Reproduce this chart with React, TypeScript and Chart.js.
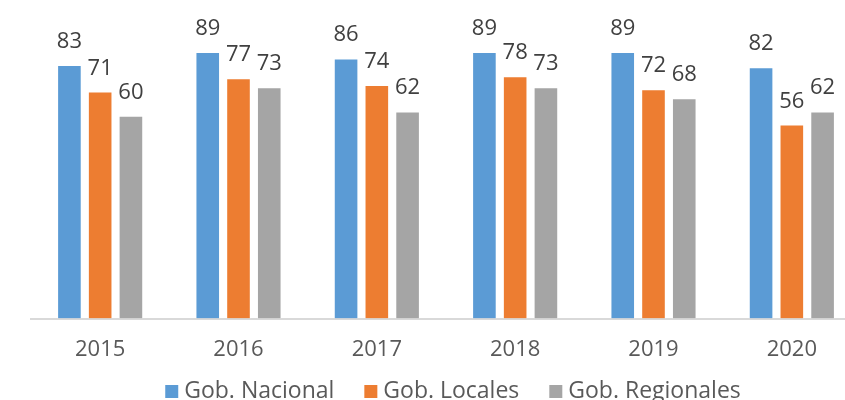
import React, { useEffect, useRef } from "react";
import { Chart, registerables } from "chart.js";

Chart.register(...registerables);

const categories = ["2015", "2016", "2017", "2018", "2019", "2020"];
const nacional = [83, 89, 86, 89, 89, 82];
const locales = [71, 77, 74, 78, 72, 56];
const regionales = [60, 73, 62, 73, 68, 62];
const seriesNames = ["Gob. Nacional", "Gob. Locales", "Gob. Regionales"];
const colors = ["#5B9BD5", "#ED7D31", "#A5A5A5"];

const FONT = "'Open Sans', 'Noto Sans', sans-serif";
const Y_MIN = -32;
const Y_MAX = 108;

const labelPlugin = {
  id: "barLabels",
  afterDatasetsDraw(chart: any) {
    const ctx = chart.ctx;
    ctx.save();
    ctx.font = `22px ${FONT}`;
    ctx.fillStyle = "#404040";
    ctx.textAlign = "center";
    ctx.textBaseline = "alphabetic";
    chart.data.datasets.forEach((ds: any, i: number) => {
      const meta = chart.getDatasetMeta(i);
      meta.data.forEach((bar: any, j: number) => {
        ctx.fillText(String(ds.data[j]), bar.x, bar.y - 17);
      });
    });
    ctx.restore();
  },
};

const legendPlugin = {
  id: "customLegend",
  afterDraw(chart: any) {
    const ctx = chart.ctx;
    ctx.save();
    ctx.font = `23px ${FONT}`;
    ctx.textBaseline = "alphabetic";
    ctx.textAlign = "left";
    const box = 13;
    const gapText = 6;
    const gapItem = 30;
    const items = chart.data.datasets.map((ds: any) => ({
      label: ds.label,
      color: ds.backgroundColor,
      w: box + gapText + ctx.measureText(ds.label).width,
    }));
    const total = items.reduce((s: number, it: any) => s + it.w, 0) + gapItem * (items.length - 1);
    let x = 453 - total / 2;
    const baseline = 398;
    items.forEach((it: any) => {
      ctx.fillStyle = it.color;
      ctx.fillRect(x, baseline - box, box, box);
      ctx.fillStyle = "#595959";
      ctx.fillText(it.label, x + box + gapText, baseline);
      x += it.w + gapItem;
    });
    ctx.restore();
  },
};

export default function App() {
  const ref = useRef<HTMLCanvasElement>(null);
  useEffect(() => {
    const chart = new Chart(ref.current!, {
      type: "bar",
      data: {
        labels: categories,
        datasets: seriesNames.map((name, i) => ({
          label: name,
          data: [nacional, locales, regionales][i],
          backgroundColor: colors[i],
          base: Y_MIN,
          borderColor: "#ffffff",
          borderWidth: 1,
          barPercentage: 0.8,
          categoryPercentage: 0.667,
        })),
      },
      options: {
        animation: false,
        responsive: false,
        devicePixelRatio: 1,
        layout: { padding: { left: 31, right: 39, top: 10, bottom: 27 } },
        scales: {
          x: {
            grid: { display: false },
            border: { display: true, color: "#d9d9d9", width: 2 },
            ticks: { color: "#595959", font: { family: FONT, size: 22 }, padding: 10 },
          },
          y: { display: false, min: Y_MIN, max: Y_MAX },
        },
        plugins: {
          tooltip: { enabled: false },
          legend: { display: false },
        },
      },
      plugins: [labelPlugin, legendPlugin],
    });
    return () => chart.destroy();
  }, []);
  return (
    <div style={{ position: "fixed", left: 0, top: 0, width: 845, height: 400, overflow: "hidden", background: "#fff" }}>
      <canvas ref={ref} width={900} height={400} style={{ width: 900, height: 400 }} />
    </div>
  );
}
